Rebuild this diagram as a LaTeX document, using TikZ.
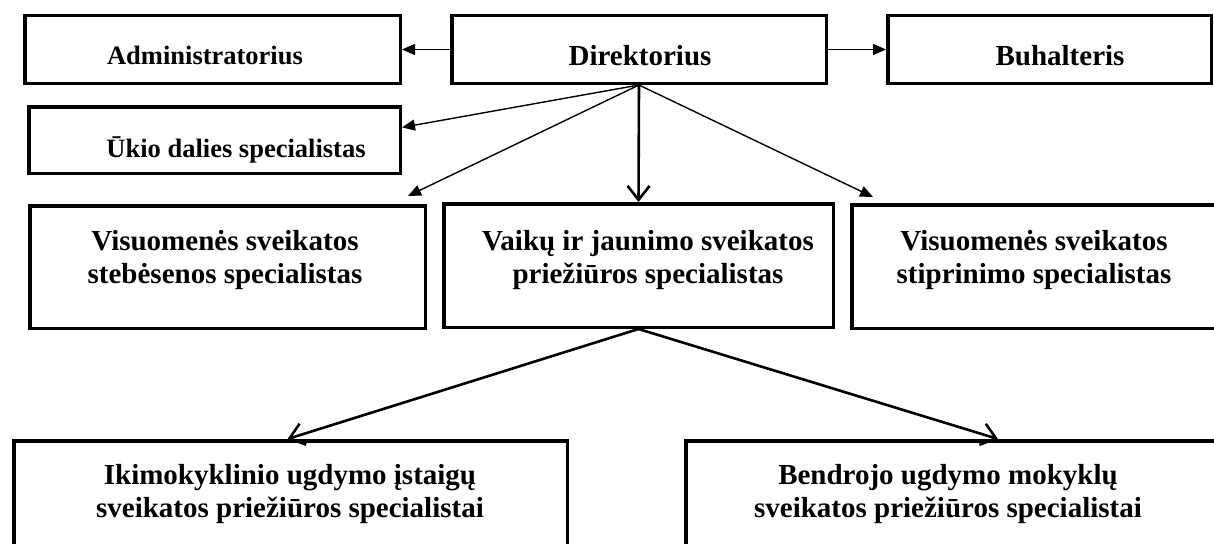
\documentclass[tikz,border=0pt]{standalone}
\usepackage{fontspec}
\setmainfont{Liberation Serif}
\usetikzlibrary{arrows.meta,calc}
\begin{document}
\begin{tikzpicture}[x=1pt,y=-1pt,
  unit/.style={draw,line width=3.5pt,inner sep=0pt},
  caption/.style={font=\bfseries\fontsize{29}{33.5}\selectfont,align=center,inner sep=0pt},
  smallcaption/.style={font=\bfseries\fontsize{26.5}{31}\selectfont,inner sep=0pt},
  link/.style={line width=1.4pt,-{Triangle[length=13pt,width=11pt]}},
  mainlink/.style={line width=2.6pt,-{Straight Barb[length=14pt,width=22pt]}}]

\useasboundingbox (0,0) rectangle (1214,543);
\clip (0,0) rectangle (1214,543);

% top row
\node[unit,minimum width=375.5pt,minimum height=67.5pt] (adm) at (212.5,49.5) {};
\node[unit,minimum width=374.5pt,minimum height=67.5pt] (dir) at (639,49.5) {};
\node[unit,minimum width=323.5pt,minimum height=67.5pt] (buh) at (1049.5,49.5) {};
\node[smallcaption,anchor=base] (admtext) at (205,64) {Administratorius};
\node[caption,anchor=base] (dirtext) at (640,65) {Direktorius};
\node[caption,anchor=base] (buhtext) at (1060,65) {Buhalteris};

% second row
\node[unit,minimum width=371.5pt,minimum height=66.5pt] (ukio) at (214.5,140) {};
\node[smallcaption,anchor=base] (ukiotext) at (236,157) {Ūkio dalies specialistas};

% specialists row
\node[unit,minimum width=395.5pt,minimum height=122.5pt] (steb) at (227.5,267) {};
\node[unit,minimum width=389.5pt,minimum height=123.5pt] (vaik) at (638.5,265.5) {};
\node[unit,minimum width=368.5pt,minimum height=123.5pt] (stip) at (1036,266.5) {};
\node[caption] (stebtext) at (225,260) {Visuomenės sveikatos\\stebėsenos specialistas};
\node[caption] (vaiktext) at (648,260) {Vaikų ir jaunimo sveikatos\\priežiūros specialistas};
\node[caption] (stiptext) at (1034,260) {Visuomenės sveikatos\\stiprinimo specialistas};

% bottom row
\node[unit,minimum width=553.5pt,minimum height=117.5pt] (ikim) at (290.5,499.5) {};
\node[unit,minimum width=532.5pt,minimum height=117.5pt] (bend) at (952,499.5) {};
\node[caption] (ikimtext) at (290,494) {Ikimokyklinio ugdymo įstaigų\\sveikatos priežiūros specialistai};
\node[caption] (bendtext) at (948,494) {Bendrojo ugdymo mokyklų\\sveikatos priežiūros specialistai};

% connectors
\coordinate (ukioin) at ($(ukio.north east)!0.32!(ukio.south east)$);
\coordinate (stebin) at (408,196);
\coordinate (stipin) at (873,197);
\coordinate (ikimin) at ($(ikim.north)+(-3,0)$);
\coordinate (bendin) at ($(bend.north west)+(314,0)$);

\draw[link] (dir.west) -- (adm.east);
\draw[link] (dir.east) -- (buh.west);
\draw[link] (dir.south) -- (ukioin);
\draw[link] (dir.south) -- (stebin);
\draw[link] (dir.south) -- (stipin);
\draw[mainlink] (dir.south) -- (vaik.north);
\draw[mainlink] (vaik.south) -- (ikimin);
\draw[mainlink] (vaik.south) -- (bendin);
\end{tikzpicture}
\end{document}
